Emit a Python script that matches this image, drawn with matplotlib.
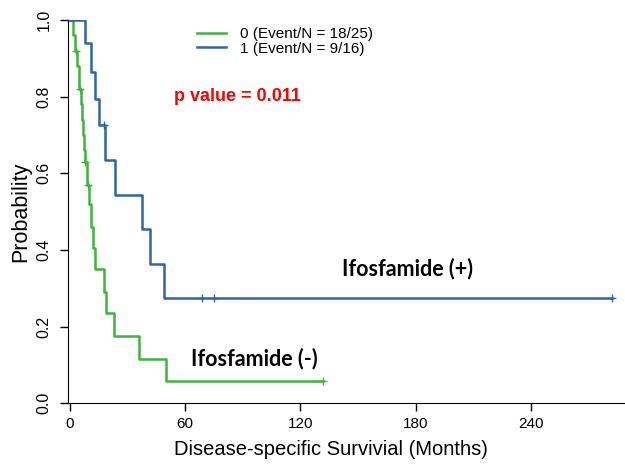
import numpy as np
import matplotlib
matplotlib.use('Agg')
import matplotlib.pyplot as plt

plt.rcParams['font.family'] = ['Liberation Sans', 'DejaVu Sans']

# step curves (months, survival after the step)
green_t = [0, 1.5, 2.5, 3.5, 4.5, 6, 6.5, 7, 7.5, 8, 9, 10, 11, 12, 13, 18, 19, 23, 36, 50, 132]
green_s = [1.0, 0.96, 0.92, 0.88, 0.82, 0.78, 0.74, 0.70, 0.66, 0.63, 0.57, 0.52, 0.46,
           0.405, 0.35, 0.29, 0.235, 0.175, 0.115, 0.058, 0.058]
green_cens_t = [3, 5.5, 8, 9.5, 132]
green_cens_s = [0.92, 0.82, 0.63, 0.57, 0.058]

blue_t = [0, 8, 11, 13, 15, 18.5, 23.5, 37.5, 41.5, 49, 282]
blue_s = [1.0, 0.94, 0.865, 0.795, 0.725, 0.634, 0.543, 0.454, 0.363, 0.274, 0.274]
blue_cens_t = [18, 69, 75, 282]
blue_cens_s = [0.725, 0.274, 0.274, 0.274]

legend_labels = ['0 (Event/N = 18/25)', '1 (Event/N = 9/16)']
green = '#3db43a'
blue = '#2f64a6'

fig = plt.figure(figsize=(6.25, 4.65), dpi=100)
ax = fig.add_axes([0.1088, 0.133, 0.8912, 0.824])

ax.step(green_t, green_s, where='post', color=green, lw=1.8, label=legend_labels[0])
ax.step(blue_t, blue_s, where='post', color=blue, lw=1.8, label=legend_labels[1])
ax.plot(green_cens_t, green_cens_s, '+', color=green, ms=6, mew=1)
ax.plot(blue_cens_t, blue_cens_s, '+', color=blue, ms=6, mew=1)

ax.set_xlim(-1, 289)
ax.set_ylim(0, 1.0)
ax.set_xticks([0, 60, 120, 180, 240])
ax.set_yticks([0, 0.2, 0.4, 0.6, 0.8, 1.0])
ax.set_yticklabels(['0.0', '0.2', '0.4', '0.6', '0.8', '1.0'], rotation=90, va='center')
ax.tick_params(axis='x', labelsize=11, length=6, width=1, pad=4)
ax.tick_params(axis='y', labelsize=11.5, length=6, width=1, pad=6)
ax.spines['top'].set_visible(False)
ax.spines['right'].set_visible(False)
ax.spines['left'].set_bounds(0, 1)
ax.spines['bottom'].set_position(('data', 0))

ax.set_xlabel('Disease-specific Survivial (Months)', fontsize=14.5, labelpad=9)
ax.xaxis.set_label_coords(0.472, -0.095)
ax.set_ylabel('Probability', fontsize=15.5, labelpad=4)

ax.legend(loc='upper left', bbox_to_anchor=(0.212, 1.01), frameon=False, fontsize=11,
          handlelength=1.9, handletextpad=0.9, labelspacing=0.05, borderaxespad=0.3)

ax.text(0.19, 0.80, 'p value = 0.011', transform=ax.transAxes, color='red',
        fontsize=13, fontweight='bold', va='center')
ax.text(0.492, 0.352, 'Ifosfamide (+)', transform=ax.transAxes, fontsize=15.5,
        fontweight='bold', family=['Lato', 'DejaVu Sans'], va='center')
ax.text(0.22, 0.117, 'Ifosfamide (-)', transform=ax.transAxes, fontsize=15.5,
        fontweight='bold', family=['Lato', 'DejaVu Sans'], va='center')

fig.savefig('out.png', dpi=100)
